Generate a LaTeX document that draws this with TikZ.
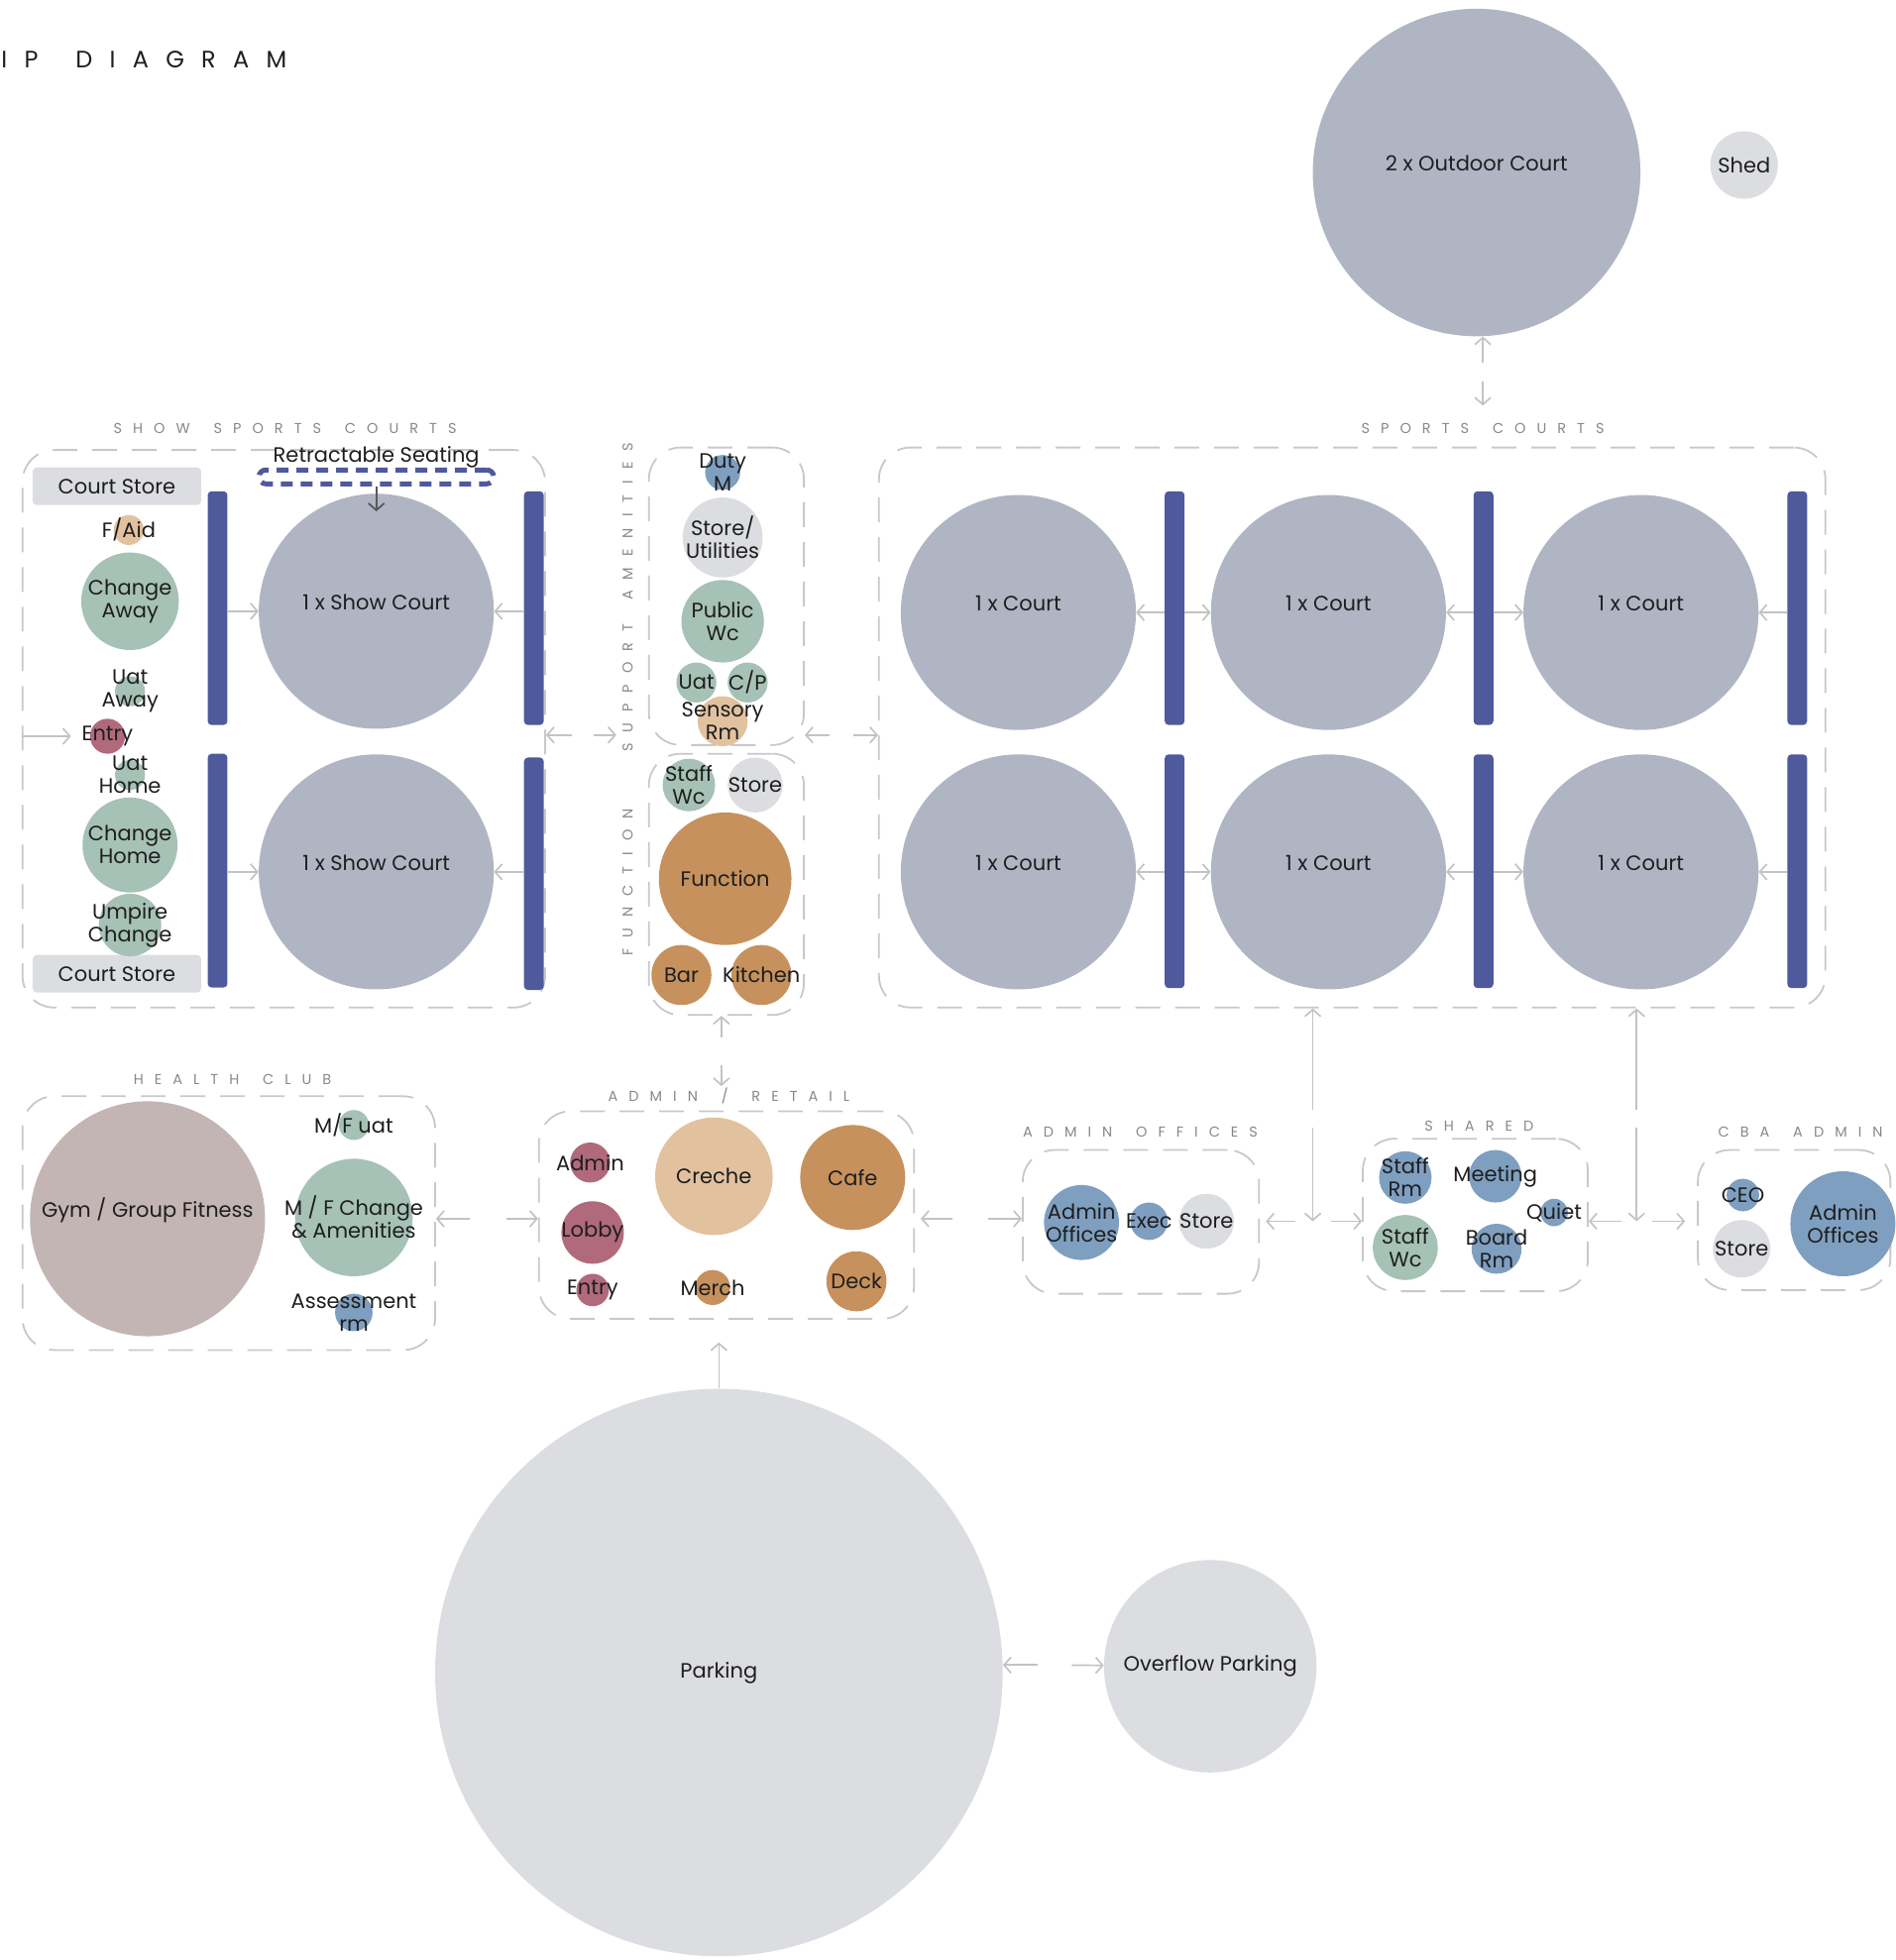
\documentclass[tikz,border=0pt]{standalone}
\usepackage{fontspec}
\setmainfont{Poppins}
\newfontfamily\headfont[LetterSpace=76, WordSpace=1.6]{Poppins}
\newfontfamily\titlefont[LetterSpace=72, WordSpace=1.6]{Poppins}
\usetikzlibrary{arrows.meta,fit,calc,positioning}
\definecolor{courtColor}{RGB}{176,181,196}
\definecolor{paleColor}{RGB}{220,221,224}
\definecolor{sageColor}{RGB}{166,193,181}
\definecolor{peachColor}{RGB}{226,193,159}
\definecolor{mauveColor}{RGB}{176,106,124}
\definecolor{steelColor}{RGB}{127,159,192}
\definecolor{tanColor}{RGB}{198,145,92}
\definecolor{gymColor}{RGB}{196,181,181}
\definecolor{dividerColor}{RGB}{78,90,156}
\definecolor{zoneColor}{RGB}{200,200,204}
\definecolor{headColor}{RGB}{135,135,141}
\definecolor{flowColor}{RGB}{195,195,199}
\definecolor{inkColor}{RGB}{30,30,30}
\newcommand{\roomfont}{\fontsize{21}{23}\selectfont}
\newcommand{\headingfont}{\headfont\fontsize{14.5}{16}\selectfont}
\tikzset{rad/.style={minimum size=#1*2.5238pt}}
\tikzset{room/.style 2 args={circle, fill=#1, inner sep=0pt, label={center:#2}}}
\tikzset{court/.style={circle, fill=courtColor, inner sep=0pt, label={[yshift=9pt]center:#1}}}
\tikzset{divider/.style={fill=dividerColor, rounded corners=4pt, minimum width=20pt, minimum height=#1*1.2619pt, inner sep=0pt}}
\tikzset{zone/.style={draw=zoneColor, line width=1.8pt, dash pattern=on 25pt off 15pt, rounded corners=32pt, inner sep=0pt}}
\tikzset{heading/.style={font=\headingfont, text=headColor, inner sep=2pt}}
\tikzset{store/.style={fill=paleColor, rounded corners=4pt, minimum width=170pt, minimum height=38pt, font=\roomfont, text=inkColor}}
\tikzset{seating/.style={draw=dividerColor, line width=5pt, dash pattern=on 12pt off 8pt, rounded corners=7pt, minimum width=237pt, minimum height=14pt, inner sep=0pt}}
\tikzset{every label/.style={font=\roomfont, text=inkColor, align=center, inner sep=0pt}}
\tikzstyle{flow} = [draw=flowColor, line width=1.7pt, -{Straight Barb[length=7pt, width=16pt]}]
\tikzstyle{seatarrow} = [draw=black!65, line width=1.8pt, -{Straight Barb[length=7pt, width=16pt]}]

\begin{document}
\begin{tikzpicture}[x=1.2619pt, y=-1.2619pt]
	\useasboundingbox (0,0) rectangle (1516,1568);
	% Nodes
	\node (title) [anchor=west, inner sep=0pt, font=\titlefont\fontsize{24}{26}\selectfont, text=inkColor] at (1,48) {IP DIAGRAM};

	\node (outdoor) [court={2 x Outdoor Court}, rad=131] at (1181,138) {};
	\node (shed) [room={paleColor}{Shed}, rad=27] at (1395,132) {};

	% zones
	\node (showbox) [zone, fit={(18,360) (436,806)}] {};
	\node (supbox) [zone, fit={(519,358) (643,596)}] {};
	\node (funcbox) [zone, fit={(519,603) (643,812)}] {};
	\node (sportbox) [zone, fit={(703,358) (1460,806)}] {};
	\node (healthbox) [zone, fit={(18,877) (348,1080)}] {};
	\node (retailbox) [zone, fit={(431,889) (731,1055)}] {};
	\node (officebox) [zone, fit={(818,920) (1007,1035)}] {};
	\node (sharedbox) [zone, fit={(1090,911) (1270,1033)}] {};
	\node (cbabox) [zone, fit={(1358,920) (1512,1032)}] {};

	\node (showlbl) [heading] at (228,343) {SHOW SPORTS COURTS};
	\node (sportslbl) [heading] at (1186,343) {SPORTS COURTS};
	\node (suplbl) [heading, rotate=90] at (502,478) {SUPPORT AMENITIES};
	\node (funclbl) [heading, rotate=90] at (502,706) {FUNCTION};
	\node (healthlbl) [heading] at (186,864) {HEALTH CLUB};
	\node (retaillbl) [heading] at (583,877) {ADMIN / RETAIL};
	\node (officelbl) [heading] at (912,906) {ADMIN OFFICES};
	\node (sharedlbl) [heading] at (1183,901) {SHARED};
	\node (cbalbl) [heading] at (1440,906) {CBA ADMIN};

	% show sports courts
	\node (cstore1) [store] at (93.5,389) {Court Store};
	\node (cstore2) [store] at (93.5,779) {Court Store};
	\node (seat) [seating] at (301,381.5) {};
	\node (seatlbl) [font=\roomfont, text=inkColor, inner sep=0pt] at (301,366) {Retractable Seating};

	\node (faid) [room={peachColor}{F/Aid}, rad=12] at (103,424) {};
	\node (chgaway) [room={sageColor}{Change\\Away}, rad=39] at (104,481) {};
	\node (uataway) [room={sageColor}{Uat\\Away}, rad=12] at (104,553) {};
	\node (entry1) [room={mauveColor}{Entry}, rad=14] at (86,589) {};
	\node (uathome) [room={sageColor}{Uat\\Home}, rad=12] at (104,620) {};
	\node (chghome) [room={sageColor}{Change\\Home}, rad=38] at (104,676) {};
	\node (umpire) [room={sageColor}{Umpire\\Change}, rad=25] at (104,740) {};

	\node (sbarL1) [divider=187] at (174,486.5) {};
	\node (sbarL2) [divider=187] at (174,696.5) {};
	\node (sbarR1) [divider=187] at (427,486.5) {};
	\node (sbarR2) [divider=186] at (427,699) {};
	\node (show1) [court={1 x Show Court}, rad=94] at (301,489) {};
	\node (show2) [court={1 x Show Court}, rad=94] at (301,697.5) {};

	% support amenities / function
	\node (dutym) [room={steelColor}{Duty\\M}, rad=14] at (578,378) {};
	\node (storeu) [room={paleColor}{Store/\\Utilities}, rad=32] at (578,430) {};
	\node (publicwc) [room={sageColor}{Public\\Wc}, rad=33] at (578,497) {};
	\node (uat) [room={sageColor}{Uat}, rad=16] at (557,546) {};
	\node (cp) [room={sageColor}{C/P}, rad=16] at (598,546) {};
	\node (sensory) [room={peachColor}{Sensory\\Rm}, rad=20] at (578,577) {};

	\node (staffwc1) [room={sageColor}{Staff\\Wc}, rad=21] at (551,628) {};
	\node (fstore) [room={paleColor}{Store}, rad=22] at (604,628) {};
	\node (function) [room={tanColor}{Function}, rad=53] at (580,703) {};
	\node (bar) [room={tanColor}{Bar}, rad=24] at (545,780) {};
	\node (kitchen) [room={tanColor}{Kitchen}, rad=24] at (609,780) {};

	% sports courts
	\node (c1) [court={1 x Court}, rad=94] at (814.5,490) {};
	\node (c2) [court={1 x Court}, rad=94] at (1062.5,490) {};
	\node (c3) [court={1 x Court}, rad=94] at (1312.5,490) {};
	\node (c4) [court={1 x Court}, rad=94] at (814.5,697.5) {};
	\node (c5) [court={1 x Court}, rad=94] at (1062.5,697.5) {};
	\node (c6) [court={1 x Court}, rad=94] at (1312.5,697.5) {};
	\node (b1) [divider=187] at (939.5,486.5) {};
	\node (b2) [divider=187] at (1186.5,486.5) {};
	\node (b3) [divider=187] at (1437.5,486.5) {};
	\node (b4) [divider=187] at (939.5,697) {};
	\node (b5) [divider=187] at (1186.5,697) {};
	\node (b6) [divider=187] at (1437.5,697) {};

	% health club
	\node (gym) [circle, fill=gymColor, inner sep=0pt, rad=94, label={[yshift=9pt]center:Gym / Group Fitness}] at (118,975) {};
	\node (mfuat) [room={sageColor}{M/F uat}, rad=12] at (283,900) {};
	\node (mfchange) [room={sageColor}{M / F Change\\\& Amenities}, rad=47] at (283,974) {};
	\node (assess) [room={steelColor}{Assessment\\rm}, rad=15] at (283,1050) {};

	% admin / retail
	\node (admin) [room={mauveColor}{Admin}, rad=16] at (472,930) {};
	\node (lobby) [room={mauveColor}{Lobby}, rad=25] at (474,986) {};
	\node (entry2) [room={mauveColor}{Entry}, rad=13] at (474,1032) {};
	\node (creche) [room={peachColor}{Creche}, rad=47] at (571,941) {};
	\node (cafe) [room={tanColor}{Cafe}, rad=42] at (682,942) {};
	\node (merch) [room={tanColor}{Merch}, rad=14] at (570,1030) {};
	\node (deck) [room={tanColor}{Deck}, rad=24] at (685,1025) {};

	% admin offices
	\node (aoffices) [room={steelColor}{Admin\\Offices}, rad=30] at (865,978) {};
	\node (exec) [room={steelColor}{Exec}, rad=15] at (919,977) {};
	\node (ostore) [room={paleColor}{Store}, rad=22] at (965,977) {};

	% shared
	\node (staffrm) [room={steelColor}{Staff\\Rm}, rad=21] at (1124,942) {};
	\node (meeting) [room={steelColor}{Meeting}, rad=21] at (1196,941) {};
	\node (quiet) [room={steelColor}{Quiet}, rad=11] at (1243,970) {};
	\node (staffwc2) [room={sageColor}{Staff\\Wc}, rad=26] at (1124,998) {};
	\node (boardrm) [room={steelColor}{Board\\Rm}, rad=20] at (1197,999) {};

	% cba admin
	\node (ceo) [room={steelColor}{CEO}, rad=13] at (1394,956) {};
	\node (cstore) [room={paleColor}{Store}, rad=23] at (1393,999) {};
	\node (cadmin) [room={steelColor}{Admin\\Offices}, rad=42] at (1474,979) {};

	% parking
	\node (parking) [room={paleColor}{Parking}, rad=227] at (575,1338) {};
	\node (overflow) [room={paleColor}{Overflow Parking}, rad=85] at (968,1333) {};

	% Connectors
	\coordinate (m1) at (466,588);
	\coordinate (m2) at (672,588);
	\coordinate (m3) at (1186,297);
	\coordinate (m4) at (577,841);
	\coordinate (m5) at (390,975);
	\coordinate (m6) at (776,975);
	\coordinate (j1) at (1050,977);
	\coordinate (v1) at (1050,895);
	\coordinate (j2) at (1309,977);
	\coordinate (v2) at (1309,895);
	\coordinate (m9) at (843,1332);

	\draw [seatarrow, shorten >=-18pt] (seat) -- (seat |- show1.north);
	\draw [flow, shorten >=19pt] (showbox.west |- entry1) -- (entry1);

	\draw [flow] (sbarL1.east |- show1) -- (show1);
	\draw [flow] (sbarR1.west |- show1) -- (show1);
	\draw [flow] (sbarL2.east |- show2) -- (show2);
	\draw [flow] (sbarR2.west |- show2) -- (show2);

	\draw [flow] (b1.west |- c1) -- (c1);
	\draw [flow] (b1.east |- c2) -- (c2);
	\draw [flow] (b2.west |- c2) -- (c2);
	\draw [flow] (b2.east |- c3) -- (c3);
	\draw [flow] (b3.west |- c3) -- (c3);
	\draw [flow] (b4.west |- c4) -- (c4);
	\draw [flow] (b4.east |- c5) -- (c5);
	\draw [flow] (b5.west |- c5) -- (c5);
	\draw [flow] (b5.east |- c6) -- (c6);
	\draw [flow] (b6.west |- c6) -- (c6);

	\draw [flow, shorten <=11pt] (m1) -- (showbox.east |- m1);
	\draw [flow, shorten <=11pt, shorten >=32pt] (m1) -- (supbox.west |- m1);
	\draw [flow, shorten <=11pt] (m2) -- (supbox.east |- m2);
	\draw [flow, shorten <=13pt] (m2) -- (sportbox.west |- m2);

	\draw [flow, shorten <=9pt] (m3) -- (m3 |- outdoor.south);
	\draw [flow, shorten <=10pt, shorten >=16pt] (m3) -- (sportslbl);

	\draw [flow, shorten <=14pt] (m4) -- (m4 |- funcbox.south);
	\draw [flow, shorten <=14pt] (m4) -- (m4 |- retaillbl.north);

	\draw [flow, shorten <=18pt] (m5) -- (healthbox.east |- m5);
	\draw [flow, shorten <=19pt] (m5) -- (retailbox.west |- m5);
	\draw [flow, shorten <=18pt, shorten >=6pt] (m6) -- (retailbox.east |- m6);
	\draw [flow, shorten <=18pt] (m6) -- (officebox.west |- m6);

	\draw [flow, shorten <=9pt] (v1) -- (v1 |- sportbox.south);
	\draw [flow, shorten <=9pt] (v1) -- (j1);
	\draw [flow, shorten <=18pt, shorten >=6pt] (j1) -- (officebox.east |- j1);
	\draw [flow, shorten <=18pt] (j1) -- (sharedbox.west |- j1);

	\draw [flow, shorten <=9pt] (v2) -- (v2 |- sportbox.south);
	\draw [flow, shorten <=9pt] (v2) -- (j2);
	\draw [flow, shorten <=15pt] (j2) -- (sharedbox.east |- j2);
	\draw [flow, shorten <=16pt, shorten >=12pt] (j2) -- (cbabox.west |- j2);

	\draw [flow, shorten >=23pt] (parking.north) -- (parking.north |- retailbox.south);
	\draw [flow, shorten <=16pt] (m9) -- (m9 -| parking.east);
	\draw [flow, shorten <=18pt] (m9) -- (overflow);
\end{tikzpicture}
\end{document}
